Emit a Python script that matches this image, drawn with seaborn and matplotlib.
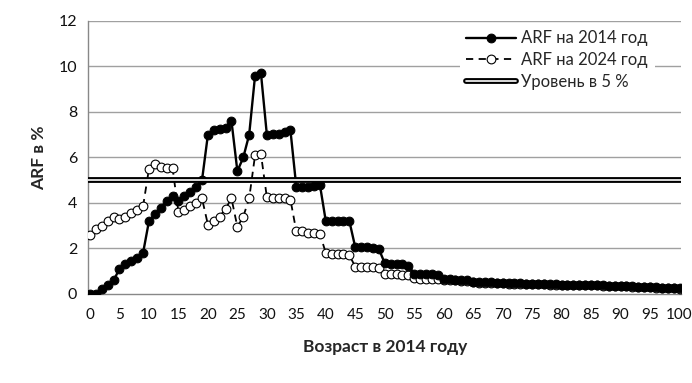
import numpy as np
import matplotlib
matplotlib.use("Agg")
import matplotlib.pyplot as plt
import matplotlib.patheffects as pe
import seaborn as sns

# возраст в 2014 году
ages = list(range(101))

arf_2014 = [0.0, 0.0, 0.2, 0.4, 0.6, 1.1, 1.3, 1.45, 1.6, 1.8,
            3.2, 3.5, 3.8, 4.1, 4.3, 4.1, 4.3, 4.5, 4.7, 5.0,
            7.0, 7.2, 7.25, 7.3, 7.6, 5.4, 6.0, 7.0, 9.6, 9.7,
            7.0, 7.05, 7.05, 7.1, 7.2, 4.7, 4.7, 4.7, 4.75, 4.8,
            3.2, 3.2, 3.2, 3.2, 3.2, 2.05, 2.05, 2.05, 2.0, 1.98,
            1.35, 1.32, 1.3, 1.3, 1.25, 0.9, 0.9, 0.88, 0.86, 0.85,
            0.65, 0.64, 0.63, 0.62, 0.61, 0.53, 0.52, 0.52, 0.51, 0.5,
            0.49, 0.48, 0.47, 0.47, 0.46, 0.45, 0.44, 0.44, 0.43, 0.42,
            0.41, 0.41, 0.41, 0.41, 0.41, 0.4, 0.39, 0.38, 0.37, 0.36,
            0.35, 0.34, 0.33, 0.32, 0.31, 0.3, 0.29, 0.28, 0.27, 0.26,
            0.25]

arf_2024 = [2.6, 2.85, 3.0, 3.2, 3.4, 3.3, 3.4, 3.55, 3.7, 3.85,
            5.5, 5.7, 5.6, 5.55, 5.55, 3.6, 3.7, 3.85, 4.0, 4.2,
            3.05, 3.2, 3.4, 3.75, 4.2, 2.95, 3.4, 4.2, 6.1, 6.15,
            4.25, 4.2, 4.2, 4.2, 4.15, 2.75, 2.75, 2.7, 2.7, 2.65,
            1.8, 1.75, 1.75, 1.75, 1.7, 1.2, 1.2, 1.18, 1.18, 1.15,
            0.9, 0.88, 0.86, 0.85, 0.83, 0.7, 0.68, 0.67, 0.66, 0.64,
            0.62, 0.6, 0.6, 0.58, 0.57, 0.51, 0.5, 0.5, 0.49, 0.48,
            0.47, 0.46, 0.45, 0.45, 0.44, 0.43, 0.42, 0.42, 0.41, 0.4,
            0.4, 0.4, 0.4, 0.4, 0.4, 0.39, 0.38, 0.37, 0.36, 0.35,
            0.34, 0.33, 0.32, 0.31, 0.3, 0.29, 0.28, 0.27, 0.26, 0.25,
            0.24]

level = 5.0
x_ticks = list(range(0, 101, 5))
y_ticks = [0, 2, 4, 6, 8, 10, 12]

sns.set_style("white")
plt.rcParams['font.family'] = ['Lato', 'DejaVu Sans']

fig = plt.figure(figsize=(6.92, 3.83), dpi=100)
ax = fig.add_axes([0.1275, 0.2324, 0.857, 0.7128])

for t in y_ticks[1:]:
    ax.axhline(t, color="#a0a0a0", lw=1.0, zorder=0)

sns.lineplot(x=ages, y=arf_2014, ax=ax, color="black", lw=1.7,
             marker="o", markersize=6.3, markerfacecolor="black",
             markeredgecolor="black", label="ARF на 2014 год", zorder=4)
sns.lineplot(x=ages, y=arf_2024, ax=ax, color="black", lw=1.3,
             linestyle=(0, (4, 3)), marker="o", markersize=6.3,
             markerfacecolor="white", markeredgecolor="black",
             markeredgewidth=0.8, label="ARF на 2024 год", zorder=3)
ax.axhline(level, color="white", lw=1.2, label="Уровень в 5 %", zorder=5,
           path_effects=[pe.Stroke(linewidth=4.2, foreground="black"), pe.Normal()])

ax.set_xlim(-0.3, 100.3)
ax.set_ylim(0, 12)
ax.set_xticks(x_ticks)
ax.set_yticks(y_ticks)
ax.tick_params(axis="both", direction="out", length=4, color="#888888",
               labelsize=11.5, pad=4, labelcolor="#111111")
ax.tick_params(axis="x", labelsize=11, pad=6)

for s in ["top", "right"]:
    ax.spines[s].set_visible(False)
for s in ["left", "bottom"]:
    ax.spines[s].set_color("#888888")
    ax.spines[s].set_linewidth(1.0)

ax.set_xlabel("Возраст в 2014 году", fontsize=12.5, fontweight="bold", labelpad=12)
ax.set_ylabel("ARF в %", fontsize=12.5, fontweight="bold", labelpad=8)

leg = ax.legend(loc="upper right", bbox_to_anchor=(0.955, 0.99), numpoints=1,
                handlelength=3.0, fontsize=12, frameon=True, framealpha=1,
                facecolor="white", edgecolor="white", borderaxespad=0,
                handletextpad=0.3, labelspacing=0.35)
leg.get_frame().set_linewidth(0)

fig.savefig("out.png", dpi=100)
